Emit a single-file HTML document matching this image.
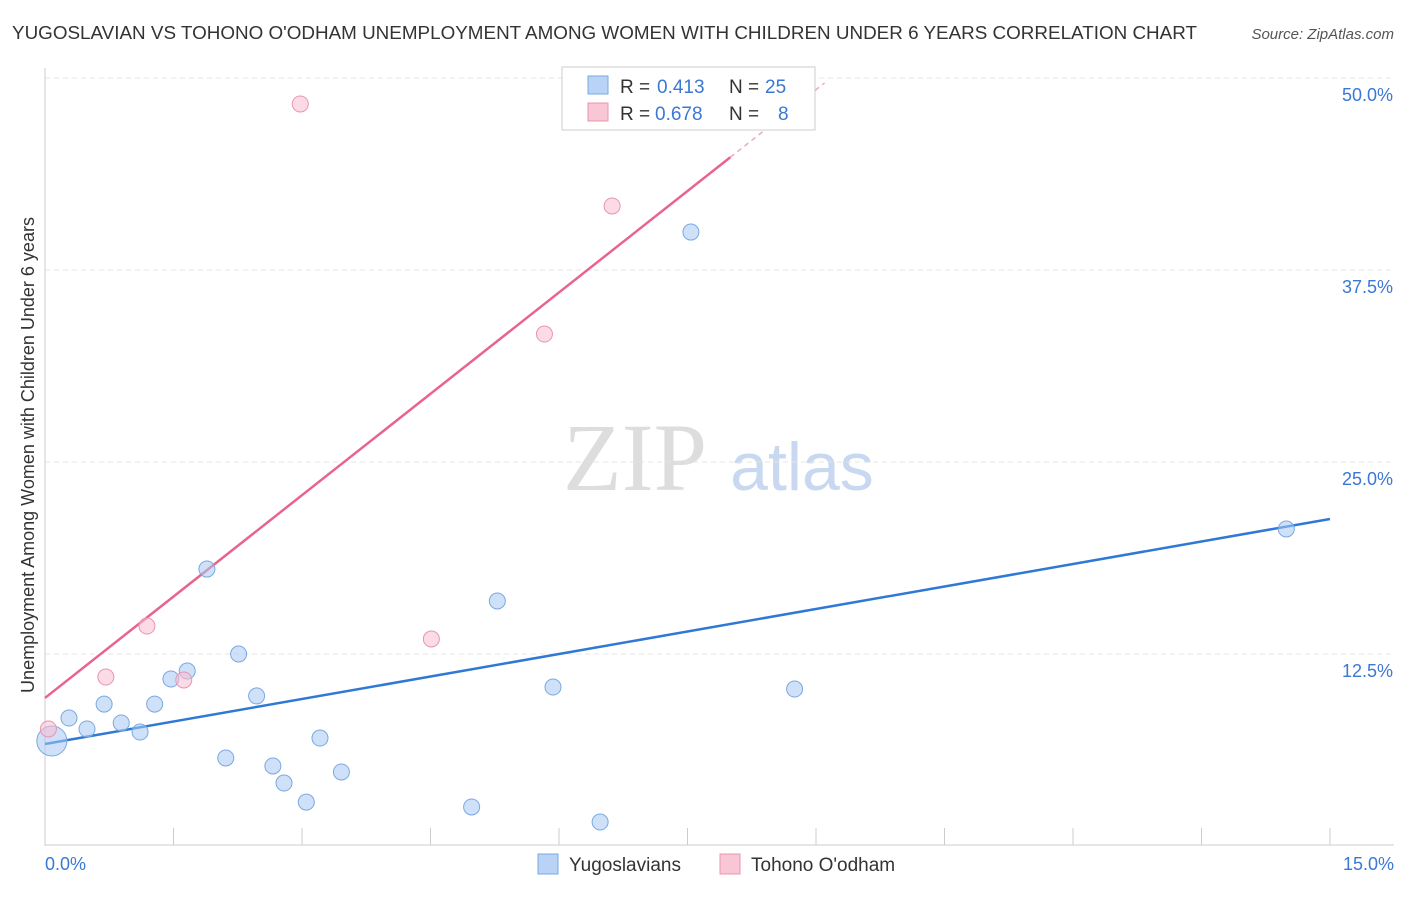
<!DOCTYPE html>
<html><head><meta charset="utf-8"><style>
body{margin:0;background:#fff;font-family:"Liberation Sans",sans-serif;}
</style></head><body>
<svg id="chart" width="1406" height="892" xmlns="http://www.w3.org/2000/svg" font-family="Liberation Sans, sans-serif">
<text x="12" y="39" font-size="18" fill="#333" textLength="1185" lengthAdjust="spacingAndGlyphs">YUGOSLAVIAN VS TOHONO O'ODHAM UNEMPLOYMENT AMONG WOMEN WITH CHILDREN UNDER 6 YEARS CORRELATION CHART</text>
<text x="1394" y="39" font-size="15" fill="#555" font-style="italic" text-anchor="end">Source: ZipAtlas.com</text>
<text transform="translate(34,455) rotate(-90)" font-size="18" fill="#333" text-anchor="middle">Unemployment Among Women with Children Under 6 years</text>
<g>
<text x="635" y="490" font-size="96" fill="#ddd" font-family="Liberation Serif, serif" text-anchor="middle">ZIP</text>
<text x="802" y="490" font-size="68" fill="#c8d8f0" text-anchor="middle">atlas</text>
</g>
<g id="grid"></g><g id="axes"></g><g id="lines"></g><g id="pts"></g>
<g>
<rect x="562" y="67" width="253" height="63" fill="#fff" stroke="#ccc"/>
<rect x="588" y="76" width="20" height="18" fill="#b8d3f5" stroke="#7aa8e0"/>
<rect x="588" y="103" width="20" height="18" fill="#f9c6d6" stroke="#e895b0"/>
<text x="620" y="93" font-size="19" fill="#333">R =</text>
<text x="657" y="93" font-size="19" fill="#3a78d4">0.413</text>
<text x="729" y="93" font-size="19" fill="#333">N =</text>
<text x="765" y="93" font-size="19" fill="#3a78d4">25</text>
<text x="620" y="120" font-size="19" fill="#333">R =</text>
<text x="655" y="120" font-size="19" fill="#3a78d4">0.678</text>
<text x="729" y="120" font-size="19" fill="#333">N =</text>
<text x="778" y="120" font-size="19" fill="#3a78d4">8</text>
</g>
<g>
<rect x="538" y="854" width="20" height="20" fill="#b8d3f5" stroke="#7aa8e0"/>
<text x="569" y="871" font-size="19" fill="#333">Yugoslavians</text>
<rect x="720" y="854" width="20" height="20" fill="#f9c6d6" stroke="#e895b0"/>
<text x="751" y="871" font-size="19" fill="#333">Tohono O'odham</text>
</g>
<text x="45" y="870" font-size="18" fill="#3a78d4">0.0%</text>
<text x="1394" y="870" font-size="18" fill="#3a78d4" text-anchor="end">15.0%</text>
</svg>
<script>
const yTicks=[12.5,25,37.5,50];
const yTickLabels=["12.5%","25.0%","37.5%","50.0%"];
const yugoX=[0.08,0.28,0.49,0.69,0.89,1.11,1.28,1.47,1.66,1.89,2.11,2.26,2.47,2.66,2.79,3.05,3.21,3.46,4.98,5.28,5.93,6.48,7.54,8.75,14.49];
const yugoY=[6.84,8.33,7.62,9.24,8.01,7.42,9.24,10.87,11.39,18.03,5.73,12.5,9.77,5.21,4.10,2.86,7.03,4.82,2.54,15.95,10.35,1.56,39.97,10.22,20.64];
const tohX=[0.04,0.71,1.19,1.62,2.98,4.51,5.83,6.62];
const tohY=[7.62,11.0,14.32,10.81,48.31,13.48,33.33,41.67];
const yugoLine=[6.64,21.29];
const tohLine=[9.64,4.40];
const NS="http://www.w3.org/2000/svg";
const X=v=>45+v/15*1285, Y=v=>846-v/50*768;
function mk(tag,attrs,parent){const e=document.createElementNS(NS,tag);for(const k in attrs)e.setAttribute(k,attrs[k]);document.getElementById(parent).appendChild(e);return e;}
yTicks.forEach((t,i)=>{
 const g=mk('line',{x1:45,x2:1394,y1:Y(t),y2:Y(t),stroke:'#e4e4e4','stroke-dasharray':'5,4'},'grid');
 
 
 const tx=mk('text',{x:1393,y:Y(t)+23,'font-size':18,fill:'#3a78d4','text-anchor':'end'},'grid');
 tx.textContent=yTickLabels[i];
 
 
});
let a=mk('line',{x1:45,x2:45,y1:68,y2:846,stroke:'#ccc'},'axes');


a=mk('line',{x1:45,x2:1394,y1:845,y2:845,stroke:'#ccc'},'axes');


for(let i=0;i<=10;i++){const t=mk('line',{x1:X(i*1.5),x2:X(i*1.5),y1:828,y2:845,stroke:'#ccc'},'axes');
 
 }
let l=mk('line',{x1:X(0),y1:Y(yugoLine[0]),x2:X(15),y2:Y(yugoLine[1]),stroke:'#2f78d6','stroke-width':2.5},'lines');


l=mk('line',{x1:X(0),y1:Y(tohLine[0]),x2:X(8),y2:Y(tohLine[0]+tohLine[1]*8),stroke:'#e8648f','stroke-width':2.5},'lines');


l=mk('line',{x1:X(8),y1:Y(tohLine[0]+tohLine[1]*8),x2:X(9.1),y2:Y(tohLine[0]+tohLine[1]*9.1),stroke:'#f0a8c0','stroke-width':1.5,'stroke-dasharray':'5,4'},'lines');


yugoX.forEach((x,i)=>{const c=mk('circle',{cx:X(x),cy:Y(yugoY[i]),r:i==0?15:8,fill:'rgba(168,200,243,0.55)',stroke:'#7aa8e0','stroke-width':1},'pts');
 
 });
tohX.forEach((x,i)=>{const c=mk('circle',{cx:X(x),cy:Y(tohY[i]),r:8,fill:'rgba(249,190,210,0.55)',stroke:'#e895b0','stroke-width':1},'pts');
 
 });
</script>
</body></html>
